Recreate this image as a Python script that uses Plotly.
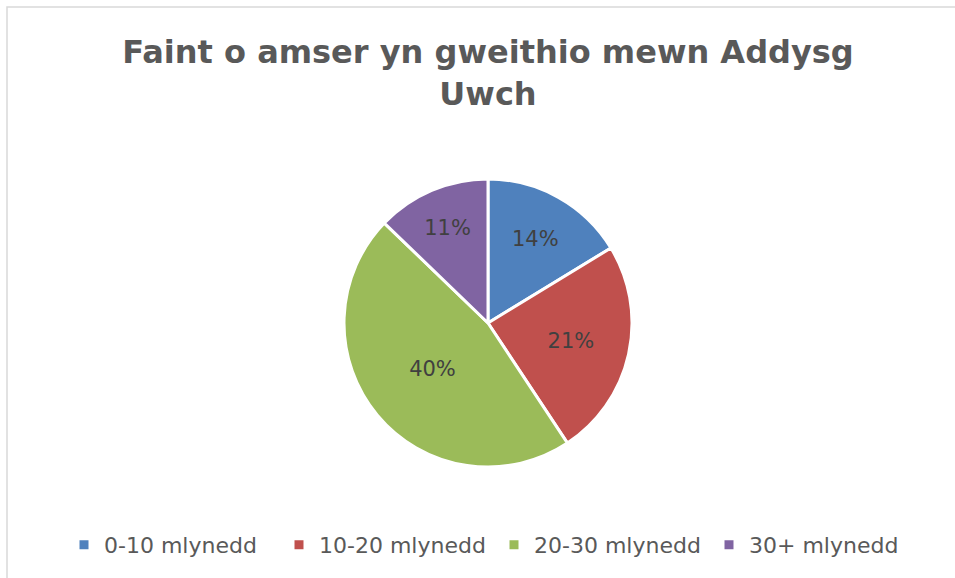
import plotly.graph_objects as go

title_text = "Faint o amser yn gweithio mewn Addysg<br>Uwch"
categories = ["0-10 mlynedd", "10-20 mlynedd", "20-30 mlynedd", "30+ mlynedd"]
values = [14, 21, 40, 11]
colors = ["#4F81BD", "#C0504D", "#9BBB59", "#8064A2"]

W, H = 955, 578
cx, cy, r = 488, 323, 144
FONT = "DejaVu Sans"

fig = go.Figure(go.Pie(
    labels=categories,
    values=values,
    sort=False,
    direction="clockwise",
    rotation=0,
    marker=dict(colors=colors, line=dict(color="white", width=3)),
    texttemplate="%{value}%",
    textposition="inside",
    insidetextorientation="horizontal",
    textfont=dict(family=FONT, size=21, color="#404040"),
    hoverinfo="label+value",
    domain=dict(x=[(cx - r) / W, (cx + r) / W], y=[1 - (cy + r) / H, 1 - (cy - r) / H]),
))

fig.update_layout(
    width=W, height=H,
    margin=dict(l=0, r=0, t=0, b=0, autoexpand=False),
    paper_bgcolor="white",
    plot_bgcolor="white",
    font=dict(family=FONT, color="#595959"),
    title=dict(
        text=title_text,
        x=cx / W, xanchor="center",
        y=1 - 63 / H, yanchor="top",
        font=dict(family=FONT, size=32, color="#595959", weight="bold"),
    ),
    legend=dict(
        orientation="h",
        x=494 / W, xanchor="center",
        y=1 - 545 / H, yanchor="middle",
        font=dict(family=FONT, size=22, color="#595959"),
        entrywidth=170, entrywidthmode="pixels",
        itemclick=False,
    ),
    showlegend=True,
    shapes=[dict(
        type="rect", xref="paper", yref="paper",
        x0=7 / W, x1=1.02, y0=-0.02, y1=1 - 7 / H,
        line=dict(color="#D9D9D9", width=1.5),
        fillcolor="rgba(0,0,0,0)",
        layer="below",
    )],
)

fig.write_html("out.html", config={"displayModeBar": False},
               post_script="document.body.style.margin='0px';")
